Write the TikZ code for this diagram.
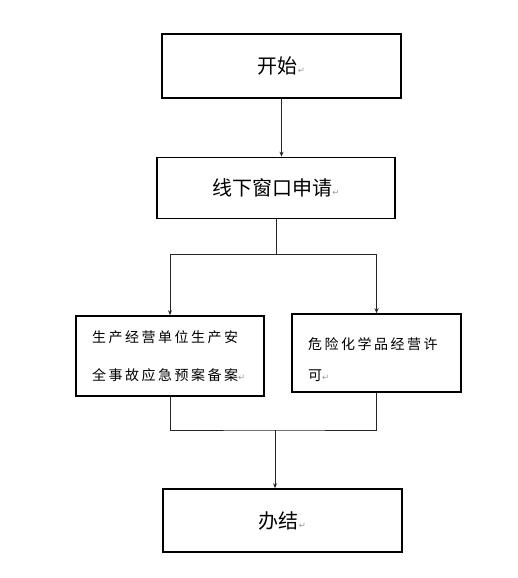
\documentclass[tikz,border=0pt]{standalone}
\usepackage{fontspec}
\usepackage{xcolor}
\newfontfamily\cjk{Noto Sans CJK SC}
\newfontfamily\cjkwide[LetterSpace=18]{Noto Sans CJK SC}
\newfontfamily\symfont{DejaVu Sans}
\usetikzlibrary{arrows.meta}
\newcommand{\retmark}{{\symfont\color{gray!80}\fontsize{8.5}{8.5}\selectfont ↵}}

\begin{document}
\begin{tikzpicture}[x=1pt, y=-1pt, >={Stealth[length=5pt,width=4pt]},
  box/.style={draw, line width=1.6pt, inner sep=0pt, align=center},
  bigtext/.style={font=\cjk\fontsize{20}{22}\selectfont},
  smallbox/.style={box, align=left, font=\cjkwide\fontsize{14}{40}\selectfont},
  link/.style={draw=black!85, line width=0.8pt}]
  \useasboundingbox (0,0) rectangle (518,578);

  % 主流程
  \node[box, bigtext, minimum width=239pt, minimum height=64pt]
    (start) at (281.5,66) {开始\retmark};
  \node[box, bigtext, minimum width=238pt, minimum height=61pt]
    (apply) at (276,188) {线下窗口申请\retmark};

  % 两个事项
  \node[smallbox, minimum width=188pt, minimum height=80pt, text width=156pt]
    (plan) at (170,356) {生产经营单位生产安\\[-2pt]全事故应急预案备案\retmark};
  \node[smallbox, minimum width=169pt, minimum height=78pt, text width=137pt]
    (permit) at (376.5,353) {\rule{0pt}{26pt}危险化学品经营许\\[-9pt]可\retmark};

  \node[box, bigtext, minimum width=239pt, minimum height=63pt]
    (done) at (282.5,520.5) {办结\retmark};

  % 连接线
  \coordinate (split) at (276,254);
  \coordinate (join) at (275,430);
  \draw[link, ->] (start.south) -- (start.south |- apply.north);
  \draw[link] (apply.south) -- (split);
  \draw[link, ->] (split) -| (plan.north);
  \draw[link, ->] (split) -| (permit.north);
  \draw[link] (plan.south) |- (join) -| (permit.south);
  \draw[link, ->] (join) -- (join |- done.north);
\end{tikzpicture}
\end{document}
